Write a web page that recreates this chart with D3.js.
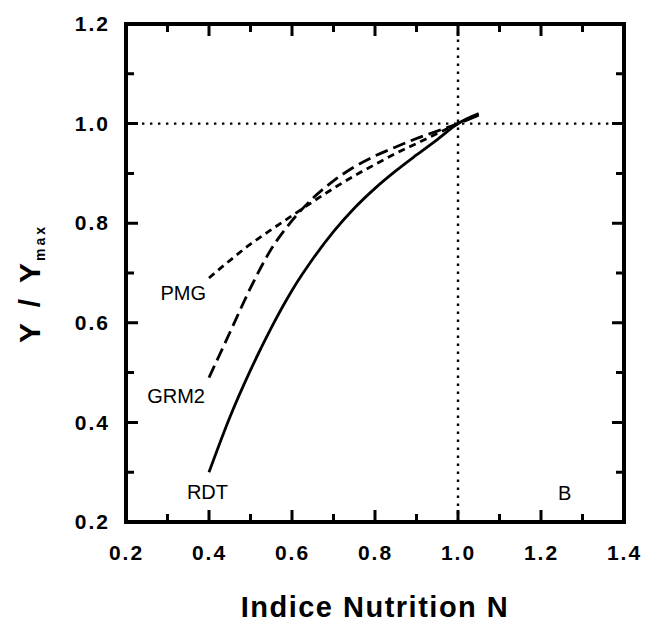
<!DOCTYPE html>
<html>
<head>
<meta charset="utf-8">
<script src="https://cdn.jsdelivr.net/npm/d3@7"></script>
<style>
  html, body { margin: 0; padding: 0; background: #fff; }
  svg { display: block; }
  text { font-family: "Liberation Sans", Arial, Helvetica, sans-serif; fill: #000; }
</style>
</head>
<body>
<svg id="chart" width="656" height="622"></svg>
<script>
// ---- data ----
const xMajorTicks = [0.2, 0.4, 0.6, 0.8, 1.0, 1.2, 1.4];
const xMinorTicks = [0.3, 0.5, 0.7, 0.9, 1.1, 1.3];
const yMajorTicks = [0.2, 0.4, 0.6, 0.8, 1.0, 1.2];
const yMinorTicks = [0.3, 0.5, 0.7, 0.9, 1.1];

const nIndex = [0.40, 0.45, 0.50, 0.55, 0.60, 0.65, 0.70, 0.75, 0.80, 0.85, 0.90, 0.95, 1.00, 1.05];
const pmg  = [0.690, 0.725, 0.758, 0.787, 0.815, 0.843, 0.870, 0.895, 0.918, 0.940, 0.960, 0.980, 1.000, 1.017];
const grm2 = [0.490, 0.580, 0.670, 0.748, 0.805, 0.850, 0.885, 0.913, 0.935, 0.953, 0.970, 0.985, 1.000, 1.017];
const rdt  = [0.300, 0.410, 0.505, 0.590, 0.665, 0.728, 0.783, 0.830, 0.870, 0.905, 0.937, 0.968, 1.000, 1.020];

const seriesNames = ["PMG", "GRM2", "RDT"];
const refX = 1.0, refY = 1.0;
const panelLabel = "B";
const xTitle = "Indice Nutrition N";

// ---- layout ----
const svg = d3.select("#chart");
const x = d3.scaleLinear().domain([0.2, 1.4]).range([126, 624]);
const y = d3.scaleLinear().domain([0.2, 1.2]).range([522, 24]);
const ink = "#000";
const X0 = x(0.2), X1 = x(1.4), Y0 = y(0.2), Y1 = y(1.2);

// reference dotted lines
svg.append("line")
  .attr("x1", X0).attr("x2", X1).attr("y1", y(refY)).attr("y2", y(refY))
  .attr("stroke", ink).attr("stroke-width", 2.4).attr("stroke-dasharray", "2.4,5.6");
svg.append("line")
  .attr("x1", x(refX)).attr("x2", x(refX)).attr("y1", Y0).attr("y2", Y1)
  .attr("stroke", ink).attr("stroke-width", 2.4).attr("stroke-dasharray", "2.4,5.6");

const fmt = d3.format(".1f");

// tick labels through d3 axes
const gB = svg.append("g").attr("transform", `translate(0,${Y0})`)
  .call(d3.axisBottom(x).tickValues(xMajorTicks).tickSize(0).tickFormat(fmt));
gB.select(".domain").remove();
gB.selectAll(".tick line").remove();
gB.selectAll(".tick text").attr("y", 38).attr("dy", 0)
  .style("font-size", "21px").style("font-weight", "bold").style("letter-spacing", "2px")
  .style("font-family", "'Liberation Sans', Arial, sans-serif").attr("fill", ink);

const gL = svg.append("g").attr("transform", `translate(${X0},0)`)
  .call(d3.axisLeft(y).tickValues(yMajorTicks).tickSize(0).tickFormat(fmt));
gL.select(".domain").remove();
gL.selectAll(".tick line").remove();
gL.selectAll(".tick text").attr("x", -16)
  .style("font-size", "21px").style("font-weight", "bold").style("letter-spacing", "2px")
  .style("font-family", "'Liberation Sans', Arial, sans-serif").attr("fill", ink);

// inward tick marks on all four sides (as one path per group)
function tickPath(vals, len) {
  const p = d3.path();
  vals.forEach(v => {
    p.moveTo(x(v), Y0); p.lineTo(x(v), Y0 - len);
    p.moveTo(x(v), Y1); p.lineTo(x(v), Y1 + len);
  });
  return p.toString();
}
function tickPathY(vals, len) {
  const p = d3.path();
  vals.forEach(v => {
    p.moveTo(X0, y(v)); p.lineTo(X0 + len, y(v));
    p.moveTo(X1, y(v)); p.lineTo(X1 - len, y(v));
  });
  return p.toString();
}
svg.append("path").attr("d", tickPath(xMajorTicks, 12) + tickPathY(yMajorTicks, 12))
  .attr("fill", "none").attr("stroke", ink).attr("stroke-width", 3);
svg.append("path").attr("d", tickPath(xMinorTicks, 8) + tickPathY(yMinorTicks, 8))
  .attr("fill", "none").attr("stroke", ink).attr("stroke-width", 3);

// frame
svg.append("path")
  .attr("d", `M${X0},${Y1}H${X1}V${Y0}H${X0}Z`)
  .attr("fill", "none").attr("stroke", ink).attr("stroke-width", 4);

// curves
const line = d3.line().x(d => x(d[0])).y(d => y(d[1])).curve(d3.curveMonotoneX);
const curves = [
  { name: seriesNames[0], vals: pmg,  dash: "7,5" },
  { name: seriesNames[1], vals: grm2, dash: "13,6" },
  { name: seriesNames[2], vals: rdt,  dash: null }
];
curves.forEach(c => {
  svg.append("path")
    .datum(nIndex.map((n, i) => [n, c.vals[i]]))
    .attr("d", line)
    .attr("fill", "none").attr("stroke", ink).attr("stroke-width", 2.8)
    .attr("stroke-dasharray", c.dash);
});

// series labels
const lab = (t, px, py, anchor) => svg.append("text").text(t)
  .attr("x", px).attr("y", py).attr("text-anchor", anchor)
  .style("font-size", "20px");
lab(seriesNames[0], x(0.4) - 3, 300, "end");
lab(seriesNames[1], x(0.4) - 4, 403, "end");
lab(seriesNames[2], x(0.4) + 19, 499, "end");
lab(panelLabel, 558, 500, "start");

// x title
svg.append("text").text(xTitle)
  .attr("x", (X0 + X1) / 2).attr("y", 617).attr("text-anchor", "middle")
  .style("font-size", "29px").style("font-weight", "bold").style("letter-spacing", "1.5px");

// y title
const yt = svg.append("text")
  .attr("transform", "translate(40,343) rotate(-90)")
  .attr("text-anchor", "start")
  .attr("xml:space", "preserve")
  .style("font-weight", "bold");
yt.append("tspan").text("Y / Y").style("font-size", "30px").style("letter-spacing", "4px");
yt.append("tspan").text("max").attr("dy", 5).attr("dx", -2).style("font-size", "14px").style("letter-spacing", "3px");
</script>
</body>
</html>
